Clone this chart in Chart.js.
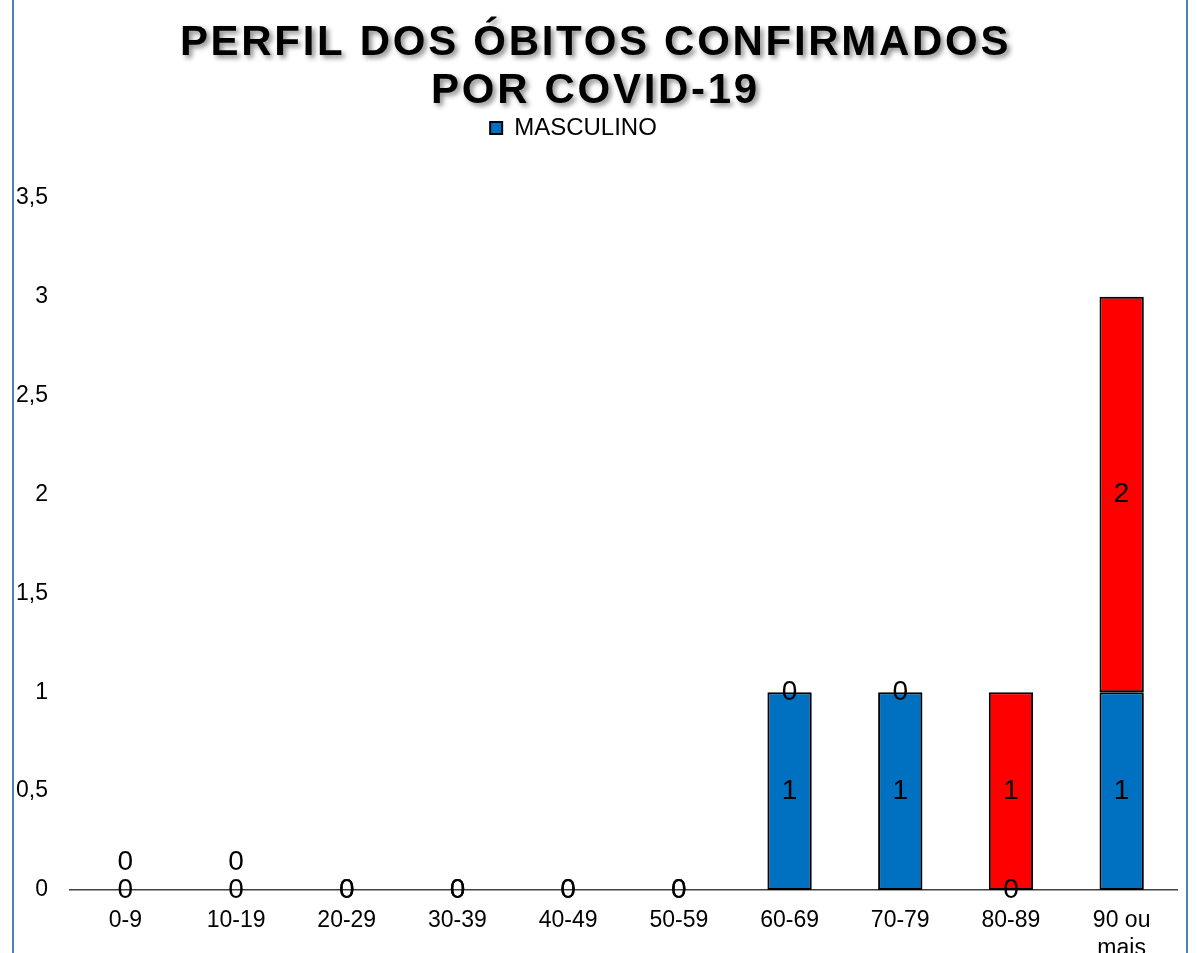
<!DOCTYPE html>
<html lang="pt-BR">
<head>
<meta charset="utf-8">
<title>Perfil dos óbitos confirmados por COVID-19</title>
<script src="https://cdn.jsdelivr.net/npm/chart.js@4.4.1/dist/chart.umd.min.js"></script>
<style>
  html, body { margin: 0; padding: 0; background: #fff; overflow: hidden; }
  #frame {
    position: absolute; left: 12px; top: -10px; width: 1172px; height: 1000px;
    border-left: 2px solid #4f81bd; border-right: 2px solid #4f81bd;
  }
  #chart { position: absolute; left: 0; top: 0; }
</style>
</head>
<body>
<div id="frame"></div>
<canvas id="chart" width="1197" height="975"></canvas>
<script>
const faixas = ['0-9', '10-19', '20-29', '30-39', '40-49', '50-59', '60-69', '70-79', '80-89', ['90 ou', 'mais']];
const masculino = [0, 0, 0, 0, 0, 0, 1, 1, 0, 1];
const feminino = [0, 0, 0, 0, 0, 0, 0, 0, 1, 2];
const yTickLabels = ['0', '0,5', '1', '1,5', '2', '2,5', '3', '3,5'];
const titleLines = ['PERFIL DOS ÓBITOS CONFIRMADOS', 'POR COVID-19'];

const FONT = '"Liberation Sans", Arial, sans-serif';

// title shadow, legend spacing, bar shadows and value labels
const chartStyling = {
    id: 'chartStyling',
    beforeLayout(chart, args, opts) {
        const lg = chart.legend;
        if (lg && !lg._padded) {
            const fit = lg.fit;
            lg.fit = function () {
                fit.call(this);
                this.height += opts.legendGap;
                // pushes the centred item a bit to the left
                if (this.lineWidths) this.lineWidths[0] += opts.legendShift * 2;
            };
            lg._padded = true;
        }
    },
    beforeDraw(chart) {
        const title = chart.titleBlock;
        if (title && !title._shadowed) {
            const draw = title.draw.bind(title);
            title.draw = function (area) {
                const ctx = chart.ctx;
                ctx.save();
                ctx.letterSpacing = '2.7px';
                ctx.shadowColor = 'rgba(0,0,0,0.45)';
                ctx.shadowBlur = 5;
                ctx.shadowOffsetX = 3;
                ctx.shadowOffsetY = 3;
                draw(area);
                ctx.restore();
            };
            title._shadowed = true;
        }
    },
    beforeDatasetsDraw(chart) {
        const ctx = chart.ctx;
        ctx.save();
        ctx.shadowColor = 'rgba(0,0,0,0.3)';
        ctx.shadowBlur = 3;
        ctx.shadowOffsetX = 2;
        ctx.shadowOffsetY = 2;
    },
    afterDatasetsDraw(chart, args, opts) {
        const ctx = chart.ctx;
        ctx.restore();
        ctx.save();
        ctx.font = '28px ' + FONT;
        ctx.fillStyle = '#000';
        ctx.textAlign = 'center';
        ctx.textBaseline = 'middle';
        chart.data.datasets.forEach((ds, di) => {
            chart.getDatasetMeta(di).data.forEach((bar, i) => {
                const p = bar.getProps(['x', 'y', 'base'], true);
                let cy = (p.y + p.base) / 2;
                if (di === 1 && opts.lifted.includes(i)) cy -= opts.lift;
                ctx.fillText(String(ds.data[i]), p.x, cy);
            });
        });
        ctx.restore();
    }
};

const ctx = document.getElementById('chart');

new Chart(ctx, {
    type: 'bar',
    data: {
        labels: faixas,
        datasets: [
            {
                label: 'MASCULINO',
                data: masculino,
                backgroundColor: '#0070c0',
                borderColor: '#000',
                borderWidth: 2,
                borderSkipped: false,
                barPercentage: 0.4,
                categoryPercentage: 1
            },
            {
                label: 'FEMININO',
                data: feminino,
                backgroundColor: '#ff0000',
                borderColor: '#000',
                borderWidth: 2,
                borderSkipped: false,
                barPercentage: 0.4,
                categoryPercentage: 1
            }
        ]
    },
    options: {
        responsive: false,
        animation: false,
        events: [],
        layout: { padding: { top: 0, left: 14, right: 20, bottom: 15 } },
        plugins: {
            title: {
                display: true,
                text: titleLines,
                color: '#000',
                font: { family: FONT, size: 42, weight: 'bold', lineHeight: 48 / 42 },
                padding: { top: 19, bottom: 0 }
            },
            legend: {
                display: true,
                position: 'top',
                labels: {
                    filter: item => item.datasetIndex === 0,
                    color: '#000',
                    font: { family: FONT, size: 24 },
                    boxWidth: 12,
                    boxHeight: 12,
                    padding: 1
                }
            },
            tooltip: { enabled: false },
            chartStyling: { legendGap: 48, legendShift: 22, lifted: [0, 1], lift: 28 }
        },
        scales: {
            x: {
                stacked: true,
                grid: { display: false, drawTicks: false },
                border: { display: true, color: '#404040', width: 1.5 },
                ticks: {
                    color: '#000',
                    font: { family: FONT, size: 23 },
                    padding: 17,
                    maxRotation: 0,
                    autoSkip: false
                },
                afterFit: scale => { scale.height = 70; }
            },
            y: {
                stacked: true,
                min: 0,
                max: 3.5,
                grid: { display: false, drawTicks: false },
                border: { display: false },
                ticks: {
                    stepSize: 0.5,
                    color: '#000',
                    font: { family: FONT, size: 23 },
                    padding: 22,
                    callback: (v, i) => yTickLabels[i]
                },
                afterFit: scale => { scale.width = 56; }
            }
        }
    },
    plugins: [chartStyling]
});
</script>
</body>
</html>
